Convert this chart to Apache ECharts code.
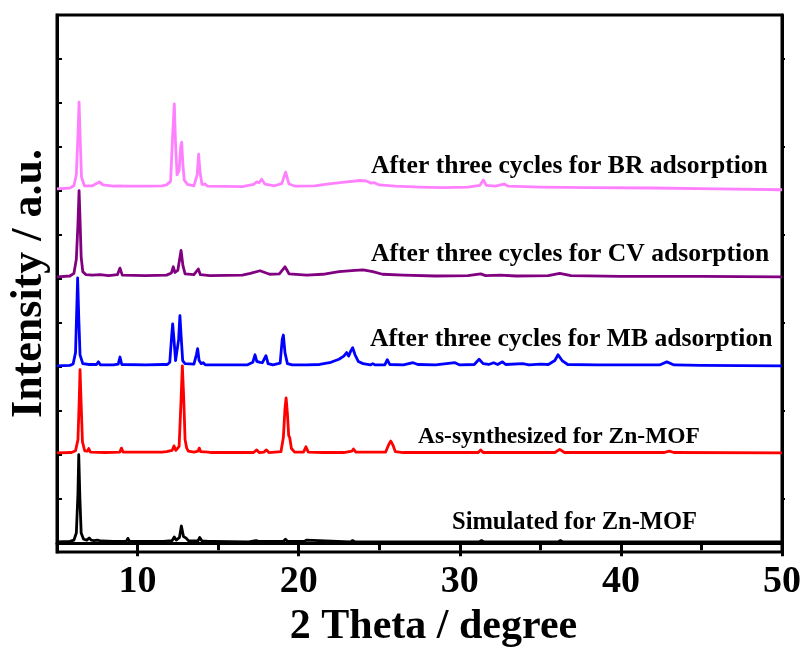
<!DOCTYPE html>
<html>
<head>
<meta charset="utf-8">
<script src="https://cdn.jsdelivr.net/npm/echarts@6/dist/echarts.min.js"></script>
<style>
  html, body { margin: 0; padding: 0; background: #fff; }
  #chart { width: 807px; height: 654px; }
</style>
</head>
<body>
<div id="chart"></div>
<script>
// XRD patterns, [2θ (degree), relative intensity above each pattern's baseline]
const simulated = [
  [5.0,0.00],[5.8,0.01],[6.05,0.04],[6.2,0.2],[6.3,1.1],[6.35,1.98],[6.42,1.0],[6.5,0.2],[6.65,0.06],
  [6.85,0.04],[7.0,0.09],[7.12,0.04],[7.3,0.03],[7.5,0.04],[7.62,0.08],[7.75,0.02],[8.5,0.01],
  [9.3,0.01],[9.4,0.08],[9.5,0.01],[11.6,0.01],[12.15,0.03],[12.28,0.11],[12.4,0.04],[12.6,0.1],
  [12.72,0.36],[12.85,0.12],[13.0,0.09],[13.15,0.03],[13.75,0.02],[13.86,0.1],[14.0,0.02],[14.42,0.01],
  [14.52,0.05],[14.65,0.01],[16.9,0.0],[17.35,0.03],[17.5,0.01],[19.05,0.01],[19.18,0.06],[19.32,0.01],
  [20.35,0.01],[20.48,0.04],[20.6,0.0],[23.2,0.0],[23.35,0.03],[23.5,0.0],[25.6,0.0],[25.72,0.03],
  [25.85,0.0],[31.2,0.0],[31.35,0.03],[31.5,0.0],[36.1,0.0],[36.25,0.03],[36.4,0.0],[50.0,0.0]
];
const asSynthesized = [
  [5.0,0.0],[5.9,0.01],[6.15,0.05],[6.3,0.3],[6.38,1.2],[6.43,1.89],[6.5,1.1],[6.58,0.25],[6.72,0.05],
  [6.88,0.04],[6.97,0.1],[7.08,0.02],[8.0,0.01],[8.9,0.02],[9.0,0.11],[9.1,0.02],[11.5,0.02],[11.8,0.03],
  [12.15,0.06],[12.26,0.16],[12.38,0.06],[12.58,0.15],[12.7,1.2],[12.78,1.98],[12.86,1.3],[12.95,0.3],
  [13.05,0.11],[13.15,0.04],[13.5,0.02],[13.75,0.04],[13.83,0.11],[13.92,0.03],[14.4,0.02],[14.5,0.05],
  [14.6,0.01],[17.2,0.01],[17.4,0.07],[17.55,0.01],[17.85,0.02],[18.0,0.07],[18.15,0.01],[18.9,0.03],
  [19.05,0.35],[19.15,1.0],[19.22,1.25],[19.3,0.9],[19.38,0.4],[19.45,0.34],[19.55,0.1],[19.75,0.02],
  [20.3,0.02],[20.45,0.14],[20.6,0.02],[21.5,0.01],[22.8,0.01],[23.3,0.04],[23.4,0.09],[23.55,0.02],
  [25.4,0.02],[25.6,0.2],[25.72,0.27],[25.85,0.18],[26.0,0.03],[26.5,0.01],[26.6,0.04],[26.75,0.01],
  [31.15,0.01],[31.3,0.07],[31.45,0.01],[32.2,0.01],[32.3,0.05],[32.45,0.01],[35.9,0.01],[36.2,0.08],
  [36.5,0.01],[42.7,0.01],[43.0,0.04],[43.3,0.01],[50.0,0.0]
];
const afterMB = [
  [5.0,0.0],[5.8,0.01],[6.0,0.04],[6.15,0.3],[6.22,1.2],[6.28,2.0],[6.35,1.1],[6.43,0.25],[6.6,0.05],
  [7.0,0.03],[7.45,0.03],[7.57,0.09],[7.7,0.02],[8.5,0.02],[8.8,0.04],[8.91,0.2],[9.02,0.03],[10.5,0.02],
  [11.6,0.03],[11.72,0.06],[11.85,0.03],[12.0,0.08],[12.12,0.7],[12.18,0.95],[12.26,0.6],[12.36,0.12],
  [12.45,0.1],[12.55,0.6],[12.63,1.14],[12.7,0.7],[12.8,0.12],[12.95,0.05],[13.5,0.04],[13.65,0.25],
  [13.73,0.39],[13.82,0.12],[13.95,0.05],[14.08,0.07],[14.2,0.02],[16.8,0.02],[17.15,0.08],[17.29,0.25],
  [17.4,0.1],[17.6,0.08],[17.75,0.07],[17.97,0.23],[18.1,0.05],[18.4,0.02],[18.85,0.06],[18.98,0.6],
  [19.05,0.7],[19.15,0.3],[19.3,0.05],[19.6,0.02],[20.5,0.02],[21.3,0.03],[22.0,0.08],[22.5,0.15],
  [22.8,0.22],[22.98,0.3],[23.1,0.22],[23.25,0.35],[23.35,0.41],[23.5,0.25],[23.7,0.1],[24.0,0.05],
  [24.45,0.02],[24.6,0.05],[24.75,0.02],[25.35,0.02],[25.5,0.14],[25.65,0.03],[26.5,0.02],[27.1,0.07],
  [27.4,0.03],[28.5,0.02],[29.7,0.07],[30.0,0.02],[30.9,0.03],[31.2,0.15],[31.3,0.18],[31.45,0.05],
  [31.8,0.03],[32.1,0.07],[32.35,0.03],[32.65,0.09],[32.85,0.03],[33.9,0.05],[34.3,0.02],[35.0,0.04],
  [35.5,0.03],[35.9,0.12],[36.1,0.25],[36.35,0.12],[36.7,0.03],[38.5,0.02],[40.0,0.02],[42.4,0.02],
  [42.85,0.09],[43.3,0.02],[45.0,0.01],[50.0,0.0]
];
const afterCV = [
  [5.0,0.0],[5.8,0.02],[6.05,0.08],[6.2,0.4],[6.3,1.2],[6.37,1.96],[6.43,1.3],[6.5,0.45],[6.6,0.12],
  [6.8,0.05],[7.2,0.04],[7.67,0.05],[8.2,0.03],[8.75,0.05],[8.91,0.2],[9.05,0.04],[10.5,0.03],[11.8,0.04],
  [12.1,0.09],[12.22,0.23],[12.32,0.1],[12.5,0.15],[12.7,0.6],[12.82,0.25],[12.95,0.07],[13.5,0.05],
  [13.77,0.18],[13.9,0.05],[14.5,0.03],[16.5,0.04],[17.0,0.08],[17.6,0.14],[18.2,0.06],[18.8,0.07],
  [19.15,0.23],[19.4,0.07],[20.5,0.04],[21.5,0.06],[22.5,0.12],[23.5,0.15],[24.0,0.16],[24.6,0.12],
  [25.2,0.06],[26.5,0.04],[28.5,0.02],[30.5,0.03],[31.3,0.07],[31.6,0.03],[32.5,0.04],[33.5,0.02],
  [35.5,0.03],[36.2,0.08],[36.9,0.03],[40.0,0.01],[45.0,0.01],[50.0,0.0]
];
const afterBR = [
  [5.0,-0.02],[5.8,0.0],[6.05,0.05],[6.2,0.3],[6.3,1.2],[6.37,1.95],[6.44,1.1],[6.52,0.25],[6.7,0.05],
  [7.2,0.05],[7.45,0.1],[7.63,0.14],[7.85,0.07],[8.5,0.04],[8.85,0.05],[8.95,0.09],[9.1,0.04],[10.67,0.04],
  [11.5,0.05],[11.8,0.07],[12.05,0.15],[12.18,1.2],[12.28,1.91],[12.36,1.0],[12.45,0.3],[12.58,0.4],
  [12.68,0.95],[12.74,1.04],[12.82,0.5],[12.9,0.18],[12.98,0.16],[13.1,0.08],[13.5,0.05],[13.7,0.3],
  [13.79,0.77],[13.88,0.35],[14.0,0.08],[14.19,0.09],[14.35,0.04],[16.5,0.03],[17.2,0.08],[17.4,0.14],
  [17.55,0.12],[17.7,0.2],[17.9,0.09],[18.5,0.05],[18.95,0.1],[19.19,0.36],[19.4,0.09],[19.8,0.04],
  [21.0,0.05],[22.0,0.1],[23.0,0.14],[23.8,0.17],[24.2,0.16],[24.5,0.11],[24.7,0.12],[25.0,0.07],
  [26.0,0.04],[27.5,0.02],[29.0,0.01],[30.5,0.02],[31.25,0.06],[31.46,0.18],[31.65,0.06],[32.2,0.04],
  [32.75,0.09],[33.0,0.04],[35.0,0.02],[38.0,0.01],[42.0,0.0],[46.0,-0.02],[50.0,-0.04]
];

// vertical stacking of the patterns, bottom to top
const stackOffsets = [0.03, 2.05, 4.03, 6.05, 8.07];
const patternNames = [
  'Simulated for Zn-MOF',
  'As-synthesized for Zn-MOF',
  'After three cycles for MB adsorption',
  'After three cycles for CV adsorption',
  'After three cycles for BR adsorption'
];
const patternColors = ['#000000', '#ff0000', '#0000ff', '#800080', '#ff80ff'];

// axis ticks
const xMajorTicks = [10, 20, 30, 40, 50];
const xMinorTicks = [5, 15, 25, 35, 45];
const yLeftTicks = [0, 1, 2, 3, 4, 5, 6, 7, 8, 9, 10, 11];
const yRightTicks = [1, 3, 5, 7, 9, 11];

const serif = '"Liberation Serif", "Times New Roman", Times, serif';
const patterns = [simulated, asSynthesized, afterMB, afterCV, afterBR];

const series = patterns.map((pts, i) => ({
  type: 'line',
  name: patternNames[i],
  data: pts.map(([x, y]) => [x, y + stackOffsets[i]]),
  symbol: 'none',
  showSymbol: false,
  smooth: false,
  silent: true,
  xAxisIndex: 0,
  yAxisIndex: 0,
  lineStyle: { color: patternColors[i], width: 2.8, join: 'round' },
  itemStyle: { color: patternColors[i] },
  z: 2 + i
}));

// pattern captions, top to bottom
const labelBox = [
  { left: 371, mid: 166.5, size: 25.6 },
  { left: 371, mid: 254.5, size: 25.6 },
  { left: 370, mid: 339.5, size: 25.6 },
  { left: 418, mid: 437, size: 23.5 },
  { left: 452, mid: 523, size: 24.5 }
];
const labelOrder = [4, 3, 2, 1, 0];
const graphics = labelOrder.map((k, j) => ({
  type: 'text',
  x: labelBox[j].left,
  y: labelBox[j].mid,
  z: 100,
  style: {
    text: patternNames[k],
    font: 'bold ' + labelBox[j].size + 'px ' + serif,
    fill: '#000',
    align: 'left',
    verticalAlign: 'middle'
  }
}));

const axisLineStyle = { color: '#000', width: 3 };

const chart = echarts.init(document.getElementById('chart'), null, { renderer: 'canvas' });
chart.setOption({
  animation: false,
  backgroundColor: '#fff',
  grid: {
    left: 57, right: 25, top: 15, bottom: 102,
    containLabel: false,
    outerBoundsMode: 'none',
    show: true, borderColor: '#000', borderWidth: 3, backgroundColor: 'transparent'
  },
  xAxis: [
    {
      type: 'value', min: 5, max: 50, position: 'bottom',
      axisLine: { show: true, lineStyle: axisLineStyle },
      axisTick: { show: true, inside: false, length: 7, lineStyle: { color: '#000', width: 3 }, customValues: xMinorTicks },
      axisLabel: { show: false },
      splitLine: { show: false }
    },
    {
      type: 'value', min: 5, max: 50, position: 'bottom',
      axisLine: { show: false },
      axisTick: { show: true, inside: false, length: 13, lineStyle: { color: '#000', width: 3 }, customValues: xMajorTicks },
      axisLabel: {
        show: true, customValues: xMajorTicks, margin: 11,
        color: '#000', fontFamily: serif, fontWeight: 'bold', fontSize: 38
      },
      splitLine: { show: false },
      name: '2 Theta / degree',
      nameLocation: 'middle',
      nameGap: 51,
      nameTextStyle: { color: '#000', fontFamily: serif, fontWeight: 'bold', fontSize: 42, padding: [0, 0, 0, 28] }
    }
  ],
  yAxis: [
    {
      type: 'value', min: -0.2, max: 12, position: 'left',
      axisLine: { show: true, lineStyle: axisLineStyle },
      axisTick: { show: true, inside: true, length: 5, lineStyle: { color: '#000', width: 2 }, customValues: yLeftTicks },
      axisLabel: { show: false },
      splitLine: { show: false },
      name: 'Intensity / a.u.',
      nameLocation: 'middle',
      nameGap: 5,
      nameRotate: 90,
      nameTextStyle: { color: '#000', fontFamily: serif, fontWeight: 'bold', fontSize: 44 }
    },
    {
      type: 'value', min: -0.2, max: 12, position: 'right',
      axisLine: { show: true, lineStyle: axisLineStyle },
      axisTick: { show: true, inside: false, length: 3, lineStyle: { color: '#000', width: 2 }, customValues: yRightTicks },
      axisLabel: { show: false },
      splitLine: { show: false }
    }
  ],
  series: series,
  graphic: graphics
});
</script>
</body>
</html>
